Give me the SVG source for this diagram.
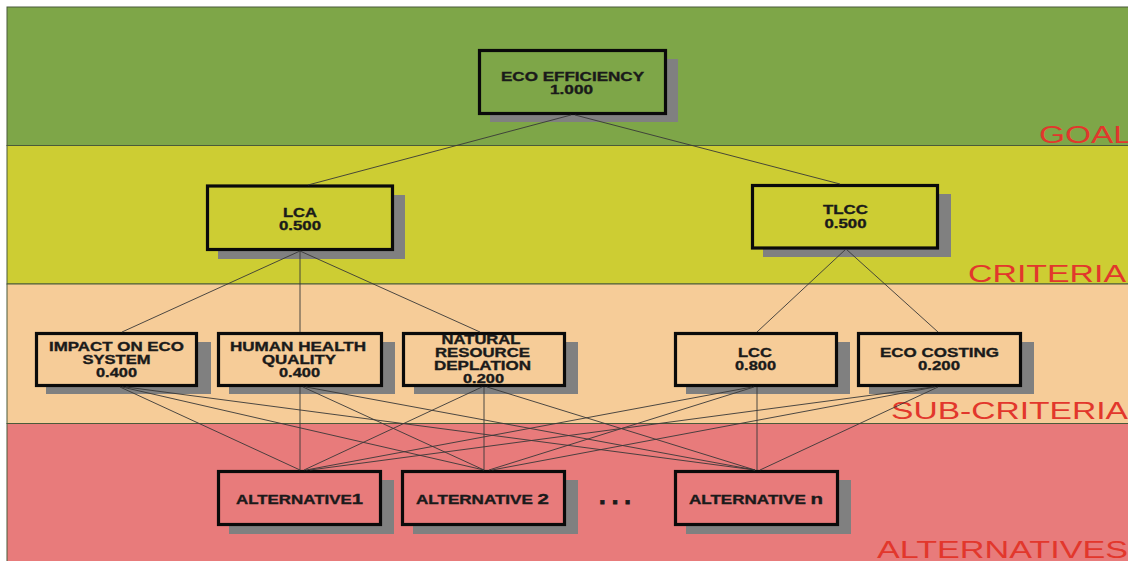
<svg xmlns="http://www.w3.org/2000/svg" width="1128" height="561" viewBox="0 0 1128 561">
<style>
.band{stroke:#4a5a3a;stroke-width:1}
.shadow{fill:#808080}
.box{stroke:#0a0a0a;stroke-width:3.2}
.t{font-family:"Liberation Sans",Arial,sans-serif;font-weight:bold;font-size:12.5px;fill:#1a1a1a;stroke:#1a1a1a;stroke-width:0.35;text-anchor:middle}
.lvl{font-family:"Liberation Sans",Arial,sans-serif;font-size:23.5px;fill:#E2372C}
.c line{stroke:#383838;stroke-width:0.9}
</style>
<rect x="0" y="0" width="1128" height="561" fill="#ffffff"/>
<g id="bands">
<rect class="band" x="7" y="7" width="1125" height="138.5" fill="#7EA648"/>
<rect class="band" x="7" y="145.5" width="1125" height="138.5" fill="#CDCD33"/>
<rect class="band" x="7" y="284" width="1125" height="139.5" fill="#F6CC98"/>
<rect class="band" x="7" y="423.5" width="1125" height="140" fill="#E87B7B"/>
</g>
<g id="level-labels">
<text class="lvl" x="1039" y="143" textLength="93" lengthAdjust="spacingAndGlyphs">GOAL</text>
<text class="lvl" x="968" y="282" textLength="158" lengthAdjust="spacingAndGlyphs">CRITERIA</text>
<text class="lvl" x="891" y="419" textLength="237" lengthAdjust="spacingAndGlyphs">SUB-CRITERIA</text>
<text class="lvl" x="877" y="558" textLength="251" lengthAdjust="spacingAndGlyphs">ALTERNATIVES</text>
</g>
<g id="n-eco-efficiency">
<rect class="shadow" x="490" y="59" width="188" height="63"/>
<rect class="box" x="479.5" y="50.5" width="186" height="63" fill="#7EA648"/>
<text class="t" x="572.5" y="81" textLength="143" lengthAdjust="spacingAndGlyphs">ECO EFFICIENCY</text>
<text class="t" x="571.5" y="94" textLength="43" lengthAdjust="spacingAndGlyphs">1.000</text>
</g>
<g id="n-lca">
<rect class="shadow" x="218" y="195" width="187" height="64"/>
<rect class="box" x="207.5" y="186" width="185" height="63.5" fill="#CDCD33"/>
<text class="t" x="300" y="216.5" textLength="34" lengthAdjust="spacingAndGlyphs">LCA</text>
<text class="t" x="300" y="229.5" textLength="42" lengthAdjust="spacingAndGlyphs">0.500</text>
</g>
<g id="n-tlcc">
<rect class="shadow" x="763" y="194" width="188" height="63"/>
<rect class="box" x="752.5" y="185.5" width="185" height="62.5" fill="#CDCD33"/>
<text class="t" x="845.5" y="214" textLength="45" lengthAdjust="spacingAndGlyphs">TLCC</text>
<text class="t" x="845.5" y="227.5" textLength="42" lengthAdjust="spacingAndGlyphs">0.500</text>
</g>
<g id="n-impact">
<rect class="shadow" x="46" y="342" width="165" height="52"/>
<rect class="box" x="36.5" y="333.5" width="160" height="52" fill="#F6CC98"/>
<text class="t" x="116.5" y="351" textLength="135" lengthAdjust="spacingAndGlyphs">IMPACT ON ECO</text>
<text class="t" x="116.5" y="364" textLength="68" lengthAdjust="spacingAndGlyphs">SYSTEM</text>
<text class="t" x="116.5" y="377" textLength="41" lengthAdjust="spacingAndGlyphs">0.400</text>
</g>
<g id="n-human">
<rect class="shadow" x="229" y="342" width="166" height="52"/>
<rect class="box" x="218.5" y="333.5" width="163" height="52" fill="#F6CC98"/>
<text class="t" x="298" y="351" textLength="136" lengthAdjust="spacingAndGlyphs">HUMAN HEALTH</text>
<text class="t" x="299" y="364" textLength="74" lengthAdjust="spacingAndGlyphs">QUALITY</text>
<text class="t" x="299.5" y="377" textLength="41" lengthAdjust="spacingAndGlyphs">0.400</text>
</g>
<g id="n-natural">
<rect class="shadow" x="414" y="342" width="164" height="52"/>
<rect class="box" x="403.5" y="333.5" width="161" height="52" fill="#F6CC98"/>
<text class="t" x="481" y="343.5" textLength="79" lengthAdjust="spacingAndGlyphs">NATURAL</text>
<text class="t" x="482.5" y="357" textLength="95" lengthAdjust="spacingAndGlyphs">RESOURCE</text>
<text class="t" x="482.5" y="370" textLength="97" lengthAdjust="spacingAndGlyphs">DEPLATION</text>
<text class="t" x="483.5" y="383" textLength="41" lengthAdjust="spacingAndGlyphs">0.200</text>
</g>
<g id="n-lcc">
<rect class="shadow" x="686" y="342" width="164" height="52"/>
<rect class="box" x="675.5" y="333.5" width="161" height="52" fill="#F6CC98"/>
<text class="t" x="755" y="357" textLength="34" lengthAdjust="spacingAndGlyphs">LCC</text>
<text class="t" x="755.5" y="370" textLength="41" lengthAdjust="spacingAndGlyphs">0.800</text>
</g>
<g id="n-eco-costing">
<rect class="shadow" x="869" y="342" width="165" height="52"/>
<rect class="box" x="858.5" y="333.5" width="162" height="52" fill="#F6CC98"/>
<text class="t" x="939.5" y="357" textLength="119" lengthAdjust="spacingAndGlyphs">ECO COSTING</text>
<text class="t" x="939" y="370" textLength="42" lengthAdjust="spacingAndGlyphs">0.200</text>
</g>
<g id="n-alt1">
<rect class="shadow" x="229" y="480" width="165" height="54"/>
<rect class="box" x="218.5" y="471.5" width="162" height="53" fill="#E87B7B"/>
<text class="t" x="299.5" y="504" textLength="127" lengthAdjust="spacingAndGlyphs">ALTERNATIVE<tspan font-size="15">1</tspan></text>
</g>
<g id="n-alt2">
<rect class="shadow" x="413" y="480" width="165" height="54"/>
<rect class="box" x="402.5" y="471.5" width="162" height="53" fill="#E87B7B"/>
<text class="t" x="482.5" y="504" textLength="133" lengthAdjust="spacingAndGlyphs">ALTERNATIVE <tspan font-size="15">2</tspan></text>
</g>
<g id="dots">
<text class="t" x="615" y="504" style="font-size:24px;stroke-width:0.9" textLength="32" lengthAdjust="spacing">...</text>
</g>
<g id="n-altn">
<rect class="shadow" x="686" y="480" width="165" height="54"/>
<rect class="box" x="675.5" y="471.5" width="162" height="53" fill="#E87B7B"/>
<text class="t" x="756" y="504" textLength="134" lengthAdjust="spacingAndGlyphs">ALTERNATIVE <tspan font-size="15">n</tspan></text>
</g>
<g id="connectors" class="c">
<line x1="571" y1="115" x2="308" y2="185"/>
<line x1="575" y1="115" x2="840" y2="184"/>
<line x1="300" y1="251" x2="122" y2="332"/>
<line x1="300" y1="251" x2="300" y2="332"/>
<line x1="300" y1="251" x2="480" y2="332"/>
<line x1="846" y1="249" x2="757" y2="332"/>
<line x1="846" y1="249" x2="938" y2="332"/>
<line x1="120" y1="387" x2="300" y2="470"/>
<line x1="122" y1="387" x2="484" y2="470"/>
<line x1="126" y1="387" x2="755" y2="470"/>
<line x1="300" y1="387" x2="300" y2="470"/>
<line x1="303" y1="387" x2="484" y2="470"/>
<line x1="306" y1="387" x2="755" y2="470"/>
<line x1="482" y1="387" x2="304" y2="470"/>
<line x1="484" y1="387" x2="484" y2="470"/>
<line x1="487" y1="387" x2="755" y2="470"/>
<line x1="752" y1="387" x2="306" y2="470"/>
<line x1="754" y1="387" x2="489" y2="470"/>
<line x1="757" y1="387" x2="757" y2="470"/>
<line x1="933" y1="387" x2="310" y2="470"/>
<line x1="935" y1="387" x2="492" y2="470"/>
<line x1="938" y1="387" x2="760" y2="470"/>
</g>
</svg>
